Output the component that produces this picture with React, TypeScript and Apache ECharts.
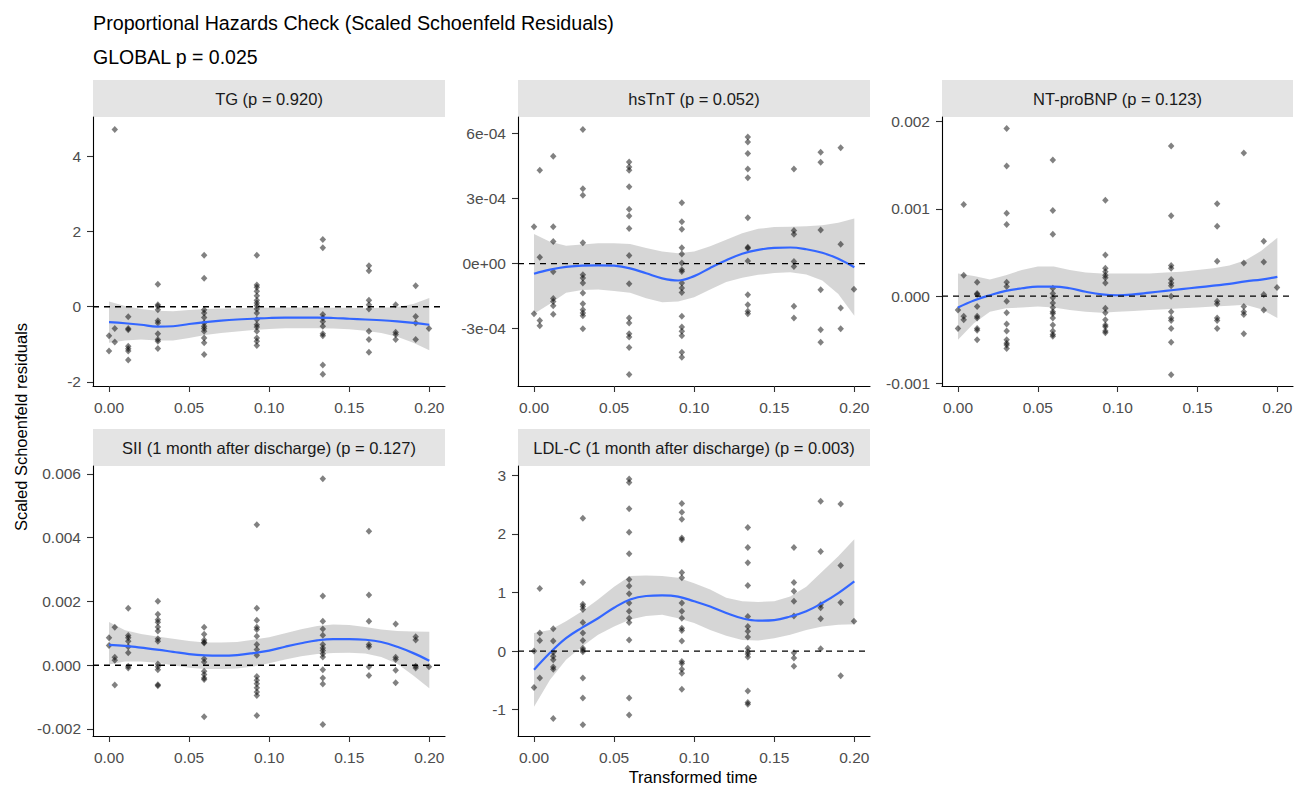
import React, { useEffect, useRef } from "react";
import * as echarts from "echarts";

// ---------------- data ----------------
const eventTimes = [0.0, 0.0036, 0.012, 0.0305, 0.0594, 0.0923, 0.1335, 0.1623, 0.179, 0.1915, 0.1998];
const smoothTimes = [0, 0.01, 0.02, 0.03, 0.04, 0.05, 0.06, 0.07, 0.08, 0.09, 0.1, 0.11, 0.12, 0.13, 0.14, 0.15, 0.16, 0.17, 0.18, 0.19, 0.2];
const xTicks = [0, 0.05, 0.1, 0.15, 0.2];
const xTickLabels = ["0.00", "0.05", "0.10", "0.15", "0.20"];

const panelTitles = [
  "TG (p = 0.920)",
  "hsTnT (p = 0.052)",
  "NT-proBNP (p = 0.123)",
  "SII (1 month after discharge) (p = 0.127)",
  "LDL-C (1 month after discharge) (p = 0.003)",
];

// TG
const tgResiduals = [
  [-0.77, -1.18],
  [4.72, -0.58, -0.94],
  [-0.27, -0.58, -0.61, -1.05, -1.12, -1.18, -1.42],
  [0.6, 0.05, 0.01, -0.08, -0.37, -0.43, -0.72, -0.87, -0.92, -1.11],
  [1.37, 0.76, -0.08, -0.17, -0.29, -0.43, -0.52, -0.58, -0.65, -0.83, -0.96, -1.27],
  [1.37, 0.58, 0.52, 0.41, 0.29, 0.17, 0.1, 0.03, -0.06, -0.17, -0.34, -0.48, -0.54, -0.65, -0.83, -0.92, -1.03],
  [1.79, 1.57, -0.21, -0.3, -0.39, -0.52, -0.72, -0.77, -1.55, -1.8],
  [1.09, 0.96, 0.17, 0.05, -0.06, -0.65, -0.87, -1.21],
  [0.05, -0.68, -0.74, -0.87],
  [0.56, -0.26, -0.43, -0.87],
  [-0.58],
];
const tgFit = [-0.41, -0.44, -0.48, -0.53, -0.52, -0.46, -0.41, -0.37, -0.34, -0.32, -0.3, -0.29, -0.29, -0.29, -0.3, -0.32, -0.34, -0.36, -0.39, -0.43, -0.48];
const tgUpper = [0.14, 0.02, -0.06, -0.11, -0.12, -0.09, -0.06, -0.05, -0.04, -0.03, -0.03, -0.02, -0.02, -0.02, -0.03, -0.03, -0.04, -0.03, -0.01, 0.07, 0.23];
const tgLower = [-0.96, -0.9, -0.87, -0.9, -0.9, -0.83, -0.75, -0.7, -0.66, -0.62, -0.59, -0.57, -0.57, -0.57, -0.58, -0.6, -0.64, -0.7, -0.8, -0.96, -1.16];

// hsTnT
const hstntResiduals = [
  [1.7e-4, -2.31e-4],
  [4.3e-4, 0.29e-4, -2.62e-4, -2.86e-4],
  [4.94e-4, 1.7e-4, 1.01e-4, -0.38e-4, -1.61e-4, -1.75e-4, -1.94e-4, -2.33e-4],
  [6.18e-4, 3.44e-4, 3.15e-4, 0.96e-4, -0.52e-4, -0.67e-4, -0.9e-4, -1.36e-4, -1.85e-4, -2.13e-4, -2.28e-4, -2.4e-4, -3.0e-4],
  [4.68e-4, 4.45e-4, 4.3e-4, 3.54e-4, 2.5e-4, 2.19e-4, 1.62e-4, 0.37e-4, -0.93e-4, -2.51e-4, -2.74e-4, -3.23e-4, -3.38e-4, -3.87e-4, -5.11e-4],
  [2.8e-4, 1.93e-4, 1.58e-4, 0.73e-4, 0.44e-4, 0.02e-4, -0.29e-4, -0.37e-4, -0.9e-4, -1.13e-4, -1.33e-4, -2.43e-4, -2.92e-4, -3.12e-4, -3.32e-4, -4.09e-4, -4.32e-4],
  [5.83e-4, 5.6e-4, 5.07e-4, 4.35e-4, 3.95e-4, 2.11e-4, 0.75e-4, 0.7e-4, 0.12e-4, -1.44e-4, -1.9e-4, -2.2e-4, -2.31e-4],
  [4.35e-4, 1.52e-4, 1.35e-4, 0.09e-4, -0.14e-4, -1.97e-4, -2.51e-4],
  [5.13e-4, 4.67e-4, 1.55e-4, -1.21e-4, -3.05e-4, -3.63e-4],
  [5.33e-4, 0.89e-4, -2.05e-4, -3.0e-4],
  [-1.18e-4],
];
const hstntFit = [-0.47e-4, -0.28e-4, -0.15e-4, -0.1e-4, -0.08e-4, -0.1e-4, -0.22e-4, -0.45e-4, -0.68e-4, -0.78e-4, -0.58e-4, -0.2e-4, 0.15e-4, 0.45e-4, 0.63e-4, 0.72e-4, 0.74e-4, 0.66e-4, 0.5e-4, 0.22e-4, -0.17e-4];
const hstntUpper = [1.36e-4, 1.0e-4, 0.82e-4, 0.88e-4, 0.93e-4, 0.93e-4, 0.9e-4, 0.72e-4, 0.55e-4, 0.47e-4, 0.55e-4, 0.8e-4, 1.1e-4, 1.4e-4, 1.6e-4, 1.68e-4, 1.7e-4, 1.72e-4, 1.76e-4, 1.88e-4, 2.08e-4];
const hstntLower = [-2.31e-4, -1.85e-4, -1.35e-4, -1.22e-4, -1.2e-4, -1.27e-4, -1.35e-4, -1.6e-4, -1.78e-4, -1.75e-4, -1.55e-4, -1.2e-4, -0.85e-4, -0.65e-4, -0.52e-4, -0.43e-4, -0.4e-4, -0.5e-4, -0.78e-4, -1.4e-4, -2.4e-4];

// NT-proBNP
const ntprobnpResiduals = [
  [-0.16e-3, -0.37e-3],
  [1.05e-3, 0.24e-3, -0.23e-3, -0.27e-3],
  [0.16e-3, 0.03e-3, 0.02e-3, -0.12e-3, -0.23e-3, -0.25e-3, -0.37e-3, -0.39e-3, -0.5e-3],
  [1.92e-3, 1.49e-3, 0.95e-3, 0.82e-3, 0.16e-3, 0.11e-3, -0.06e-3, -0.19e-3, -0.32e-3, -0.4e-3, -0.5e-3, -0.54e-3, -0.56e-3, -0.6e-3],
  [1.56e-3, 0.98e-3, 0.71e-3, 0.09e-3, 0.03e-3, -0.02e-3, -0.08e-3, -0.13e-3, -0.18e-3, -0.2e-3, -0.25e-3, -0.33e-3, -0.4e-3, -0.44e-3, -0.46e-3],
  [1.1e-3, 0.47e-3, 0.32e-3, 0.28e-3, 0.24e-3, 0.21e-3, 0.15e-3, -0.14e-3, -0.19e-3, -0.27e-3, -0.33e-3, -0.35e-3, -0.4e-3, -0.42e-3],
  [1.72e-3, 0.92e-3, 0.35e-3, 0.32e-3, 0.19e-3, 0.15e-3, 0.12e-3, 0.0, -0.18e-3, -0.25e-3, -0.28e-3, -0.37e-3, -0.53e-3, -0.9e-3],
  [1.06e-3, 0.8e-3, 0.4e-3, -0.06e-3, -0.09e-3, -0.25e-3, -0.28e-3, -0.37e-3],
  [1.64e-3, 0.38e-3, -0.12e-3, -0.18e-3, -0.21e-3, -0.43e-3],
  [0.63e-3, 0.39e-3, 0.02e-3, -0.16e-3],
  [0.1e-3],
];
const ntprobnpFit = [-0.13e-3, -0.05e-3, 0.01e-3, 0.06e-3, 0.09e-3, 0.11e-3, 0.11e-3, 0.09e-3, 0.05e-3, 0.02e-3, 0.01e-3, 0.02e-3, 0.04e-3, 0.06e-3, 0.08e-3, 0.1e-3, 0.12e-3, 0.14e-3, 0.17e-3, 0.19e-3, 0.22e-3];
const ntprobnpUpper = [0.26e-3, 0.23e-3, 0.19e-3, 0.24e-3, 0.3e-3, 0.34e-3, 0.34e-3, 0.3e-3, 0.27e-3, 0.26e-3, 0.26e-3, 0.26e-3, 0.26e-3, 0.27e-3, 0.28e-3, 0.3e-3, 0.32e-3, 0.35e-3, 0.41e-3, 0.52e-3, 0.67e-3];
const ntprobnpLower = [-0.5e-3, -0.31e-3, -0.18e-3, -0.14e-3, -0.13e-3, -0.12e-3, -0.13e-3, -0.16e-3, -0.18e-3, -0.19e-3, -0.18e-3, -0.17e-3, -0.16e-3, -0.15e-3, -0.14e-3, -0.13e-3, -0.12e-3, -0.11e-3, -0.1e-3, -0.15e-3, -0.25e-3];

// SII
const siiResiduals = [
  [0.86e-3, 0.62e-3],
  [1.19e-3, 0.25e-3, 0.16e-3, -0.62e-3],
  [1.79e-3, 0.93e-3, 0.86e-3, 0.75e-3, 0.58e-3, 0.39e-3, -0.03e-3, -0.09e-3],
  [2.01e-3, 1.6e-3, 1.43e-3, 1.35e-3, 1.2e-3, 1.07e-3, 0.83e-3, 0.75e-3, 0.04e-3, -0.05e-3, -0.14e-3, -0.61e-3, -0.64e-3],
  [1.19e-3, 0.97e-3, 0.79e-3, 0.72e-3, 0.7e-3, 0.2e-3, 0.1e-3, -0.19e-3, -0.29e-3, -0.4e-3, -0.45e-3, -1.62e-3],
  [4.41e-3, 1.79e-3, 1.41e-3, 1.19e-3, 1.12e-3, 0.91e-3, 0.65e-3, 0.49e-3, 0.31e-3, -0.35e-3, -0.47e-3, -0.58e-3, -0.71e-3, -0.84e-3, -0.95e-3, -1.58e-3],
  [5.85e-3, 2.17e-3, 1.38e-3, 1.14e-3, 0.94e-3, 0.65e-3, 0.54e-3, 0.46e-3, 0.36e-3, 0.26e-3, -0.14e-3, -0.4e-3, -0.59e-3, -1.86e-3],
  [4.2e-3, 2.2e-3, 1.38e-3, 0.65e-3, 0.58e-3, -0.05e-3, -0.32e-3],
  [1.29e-3, 0.25e-3, 0.18e-3, -0.16e-3, -0.55e-3],
  [0.89e-3, 0.79e-3, -0.03e-3, -0.09e-3],
  [-0.05e-3],
];
const siiFit = [0.64e-3, 0.61e-3, 0.55e-3, 0.49e-3, 0.42e-3, 0.35e-3, 0.31e-3, 0.3e-3, 0.32e-3, 0.38e-3, 0.46e-3, 0.58e-3, 0.69e-3, 0.78e-3, 0.82e-3, 0.82e-3, 0.8e-3, 0.73e-3, 0.58e-3, 0.38e-3, 0.14e-3];
const siiUpper = [1.36e-3, 1.1e-3, 0.98e-3, 0.9e-3, 0.83e-3, 0.76e-3, 0.71e-3, 0.71e-3, 0.73e-3, 0.8e-3, 0.88e-3, 1.0e-3, 1.13e-3, 1.23e-3, 1.28e-3, 1.26e-3, 1.2e-3, 1.12e-3, 1.07e-3, 1.06e-3, 1.05e-3];
const siiLower = [0.02e-3, 0.12e-3, 0.12e-3, 0.08e-3, 0.0, -0.08e-3, -0.12e-3, -0.12e-3, -0.1e-3, -0.04e-3, 0.06e-3, 0.18e-3, 0.28e-3, 0.35e-3, 0.38e-3, 0.39e-3, 0.37e-3, 0.26e-3, 0.05e-3, -0.32e-3, -0.72e-3];

// LDL-C
const ldlResiduals = [
  [0.0, -0.62],
  [1.07, 0.31, 0.18, -0.46],
  [0.38, 0.17, -0.02, -0.09, -0.15, -0.27, -0.31, -1.15],
  [2.27, 1.17, 0.8, 0.76, 0.71, 0.49, 0.31, 0.18, 0.05, 0.02, -0.01, -0.46, -0.8, -1.26],
  [2.94, 2.88, 2.43, 2.03, 1.66, 1.22, 1.11, 0.98, 0.82, 0.68, 0.56, 0.49, 0.19, -0.8, -1.09],
  [2.52, 2.37, 2.25, 1.93, 1.9, 1.34, 1.25, 0.82, 0.68, 0.56, 0.39, 0.35, 0.17, -0.18, -0.21, -0.31, -0.38, -0.65],
  [2.11, 1.77, 1.51, 1.12, 0.59, 0.42, 0.34, 0.24, 0.05, -0.01, -0.05, -0.1, -0.68, -0.88, -0.91],
  [1.77, 1.17, 1.02, 0.85, 0.6, -0.03, -0.12, -0.26],
  [2.56, 1.7, 0.79, 0.74, 0.55, 0.04],
  [2.51, 1.46, 0.83, -0.42],
  [0.51],
];
const ldlFit = [-0.32, -0.03, 0.22, 0.4, 0.56, 0.74, 0.88, 0.94, 0.95, 0.93, 0.85, 0.76, 0.65, 0.56, 0.52, 0.53, 0.59, 0.68, 0.82, 0.99, 1.19];
const ldlUpper = [0.31, 0.36, 0.51, 0.68, 0.88, 1.1, 1.28, 1.29, 1.28, 1.25, 1.16, 1.05, 0.91, 0.85, 0.84, 0.85, 0.93, 1.1, 1.36, 1.62, 1.91];
const ldlLower = [-0.95, -0.49, -0.15, 0.08, 0.28, 0.42, 0.54, 0.6, 0.62, 0.56, 0.48, 0.36, 0.26, 0.19, 0.18, 0.22, 0.28, 0.36, 0.42, 0.45, 0.46];

// y-axis ticks
const tgTicks = [-2, 0, 2, 4];
const tgTickLabels = ["-2", "0", "2", "4"];
const hstntTicks = [-3e-4, 0, 3e-4, 6e-4];
const hstntTickLabels = ["-3e-04", "0e+00", "3e-04", "6e-04"];
const ntprobnpTicks = [-0.001, 0, 0.001, 0.002];
const ntprobnpTickLabels = ["-0.001", "0.000", "0.001", "0.002"];
const siiTicks = [-0.002, 0, 0.002, 0.004, 0.006];
const siiTickLabels = ["-0.002", "0.000", "0.002", "0.004", "0.006"];
const ldlTicks = [-1, 0, 1, 2, 3];
const ldlTickLabels = ["-1", "0", "1", "2", "3"];

// ---------------- layout ----------------
const FONT = "'Liberation Sans', Arial, Helvetica, sans-serif";
const X_MIN = -0.01;
const X_MAX = 0.2098;
const TICK_FONT = 15.5;

const panels = [
  { title: panelTitles[0], res: tgResiduals, fit: tgFit, upper: tgUpper, lower: tgLower, yMin: -2.11, yMax: 5.05, ticks: tgTicks, labels: tgTickLabels, left: 93, top: 117, width: 352, height: 269 },
  { title: panelTitles[1], res: hstntResiduals, fit: hstntFit, upper: hstntUpper, lower: hstntLower, yMin: -5.64e-4, yMax: 6.75e-4, ticks: hstntTicks, labels: hstntTickLabels, left: 518, top: 117, width: 352, height: 269 },
  { title: panelTitles[2], res: ntprobnpResiduals, fit: ntprobnpFit, upper: ntprobnpUpper, lower: ntprobnpLower, yMin: -1.03e-3, yMax: 2.053e-3, ticks: ntprobnpTicks, labels: ntprobnpTickLabels, left: 942, top: 117, width: 351, height: 269 },
  { title: panelTitles[3], res: siiResiduals, fit: siiFit, upper: siiUpper, lower: siiLower, yMin: -2.22e-3, yMax: 6.25e-3, ticks: siiTicks, labels: siiTickLabels, left: 93, top: 466, width: 352, height: 270 },
  { title: panelTitles[4], res: ldlResiduals, fit: ldlFit, upper: ldlUpper, lower: ldlLower, yMin: -1.45, yMax: 3.16, ticks: ldlTicks, labels: ldlTickLabels, left: 518, top: 466, width: 352, height: 270 },
];

const STRIP_H = 37;

function buildOption() {
  const grid = panels.map((p) => ({ left: p.left, top: p.top, width: p.width, height: p.height, containLabel: false }));

  const xAxis = panels.map((p, i) => ({
    type: "value",
    gridIndex: i,
    min: X_MIN,
    max: X_MAX,
    splitLine: { show: false },
    axisLine: { show: true, onZero: false, lineStyle: { color: "#000", width: 1.1 } },
    axisTick: { show: true, length: 6, customValues: xTicks, lineStyle: { color: "#333", width: 1.1 } },
    axisLabel: {
      customValues: xTicks,
      formatter: (v: number) => {
        const k = xTicks.findIndex((t) => Math.abs(t - v) < 1e-9);
        return k >= 0 ? xTickLabels[k] : "";
      },
      color: "#4d4d4d",
      fontSize: TICK_FONT,
      fontFamily: FONT,
      margin: 13,
    },
  }));

  const yAxis = panels.map((p, i) => ({
    type: "value",
    gridIndex: i,
    min: p.yMin,
    max: p.yMax,
    splitLine: { show: false },
    axisLine: { show: true, onZero: false, lineStyle: { color: "#000", width: 1.1 } },
    axisTick: { show: true, length: 6, customValues: p.ticks, lineStyle: { color: "#333", width: 1.1 } },
    axisLabel: {
      customValues: p.ticks,
      formatter: (v: number) => {
        const k = p.ticks.findIndex((t) => Math.abs(t - v) < 1e-12);
        return k >= 0 ? p.labels[k] : "";
      },
      color: "#4d4d4d",
      fontSize: TICK_FONT,
      fontFamily: FONT,
      margin: 12,
    },
  }));

  const series: any[] = [];
  panels.forEach((p, i) => {
    const pts: number[][] = [];
    p.res.forEach((vals, k) => vals.forEach((v) => pts.push([eventTimes[k], v])));
    series.push({
      type: "scatter",
      xAxisIndex: i,
      yAxisIndex: i,
      data: pts,
      symbol: "diamond",
      symbolSize: [6.5, 7],
      itemStyle: { color: "rgba(0,0,0,0.62)" },
      silent: true,
    });
    series.push({
      type: "custom",
      xAxisIndex: i,
      yAxisIndex: i,
      data: smoothTimes.map((t, k) => [t, p.lower[k], p.upper[k]]),
      encode: { x: 0, y: [1, 2] },
      silent: true,
      renderItem: (params: any, api: any) => {
        if (params.dataIndex !== 0) return null;
        const poly: number[][] = [];
        for (let k = 0; k < smoothTimes.length; k++) poly.push(api.coord([smoothTimes[k], p.upper[k]]));
        for (let k = smoothTimes.length - 1; k >= 0; k--) poly.push(api.coord([smoothTimes[k], p.lower[k]]));
        return {
          type: "polygon",
          shape: { points: poly },
          style: { fill: "rgba(153,153,153,0.4)", stroke: null },
        };
      },
    });
    series.push({
      type: "line",
      xAxisIndex: i,
      yAxisIndex: i,
      data: smoothTimes.map((t, k) => [t, p.fit[k]]),
      showSymbol: false,
      smooth: 0.4,
      silent: true,
      lineStyle: { color: "#3366FF", width: 2.2 },
    });
    series.push({
      type: "line",
      xAxisIndex: i,
      yAxisIndex: i,
      data: [
        [X_MIN, 0],
        [X_MAX, 0],
      ],
      showSymbol: false,
      silent: true,
      lineStyle: { color: "#000", width: 1.3, type: [6, 5] },
    });
  });

  const graphic: any[] = [
    {
      type: "text",
      x: 93,
      y: 23,
      style: { text: "Proportional Hazards Check (Scaled Schoenfeld Residuals)", fontSize: 19.7, fontFamily: FONT, fill: "#000", align: "left", verticalAlign: "middle" },
    },
    {
      type: "text",
      x: 93,
      y: 57,
      style: { text: "GLOBAL p = 0.025", fontSize: 19.5, fontFamily: FONT, fill: "#000", align: "left", verticalAlign: "middle" },
    },
    {
      type: "text",
      x: 21,
      y: 427,
      rotation: Math.PI / 2,
      style: { text: "Scaled Schoenfeld residuals", fontSize: 16.5, fontFamily: FONT, fill: "#000", align: "center", verticalAlign: "middle" },
    },
    {
      type: "text",
      x: 693,
      y: 777,
      style: { text: "Transformed time", fontSize: 16.5, fontFamily: FONT, fill: "#000", align: "center", verticalAlign: "middle" },
    },
  ];
  panels.forEach((p) => {
    graphic.push({
      type: "rect",
      shape: { x: p.left, y: p.top - STRIP_H, width: p.width, height: STRIP_H },
      style: { fill: "#e4e4e4" },
      silent: true,
    });
    graphic.push({
      type: "text",
      x: p.left + p.width / 2,
      y: p.top - STRIP_H / 2,
      style: { text: p.title, fontSize: 16.5, fontFamily: FONT, fill: "#1a1a1a", align: "center", verticalAlign: "middle" },
      silent: true,
    });
  });

  return {
    animation: false,
    backgroundColor: "#ffffff",
    textStyle: { fontFamily: FONT },
    grid,
    xAxis,
    yAxis,
    series,
    graphic,
  };
}

export default function App() {
  const ref = useRef<HTMLDivElement>(null);
  useEffect(() => {
    if (!ref.current) return;
    const chart = echarts.init(ref.current, undefined, { renderer: "svg" });
    chart.setOption(buildOption() as any);
    return () => chart.dispose();
  }, []);
  return <div ref={ref} style={{ position: "absolute", left: 0, top: 0, width: 1297, height: 785 }} />;
}
